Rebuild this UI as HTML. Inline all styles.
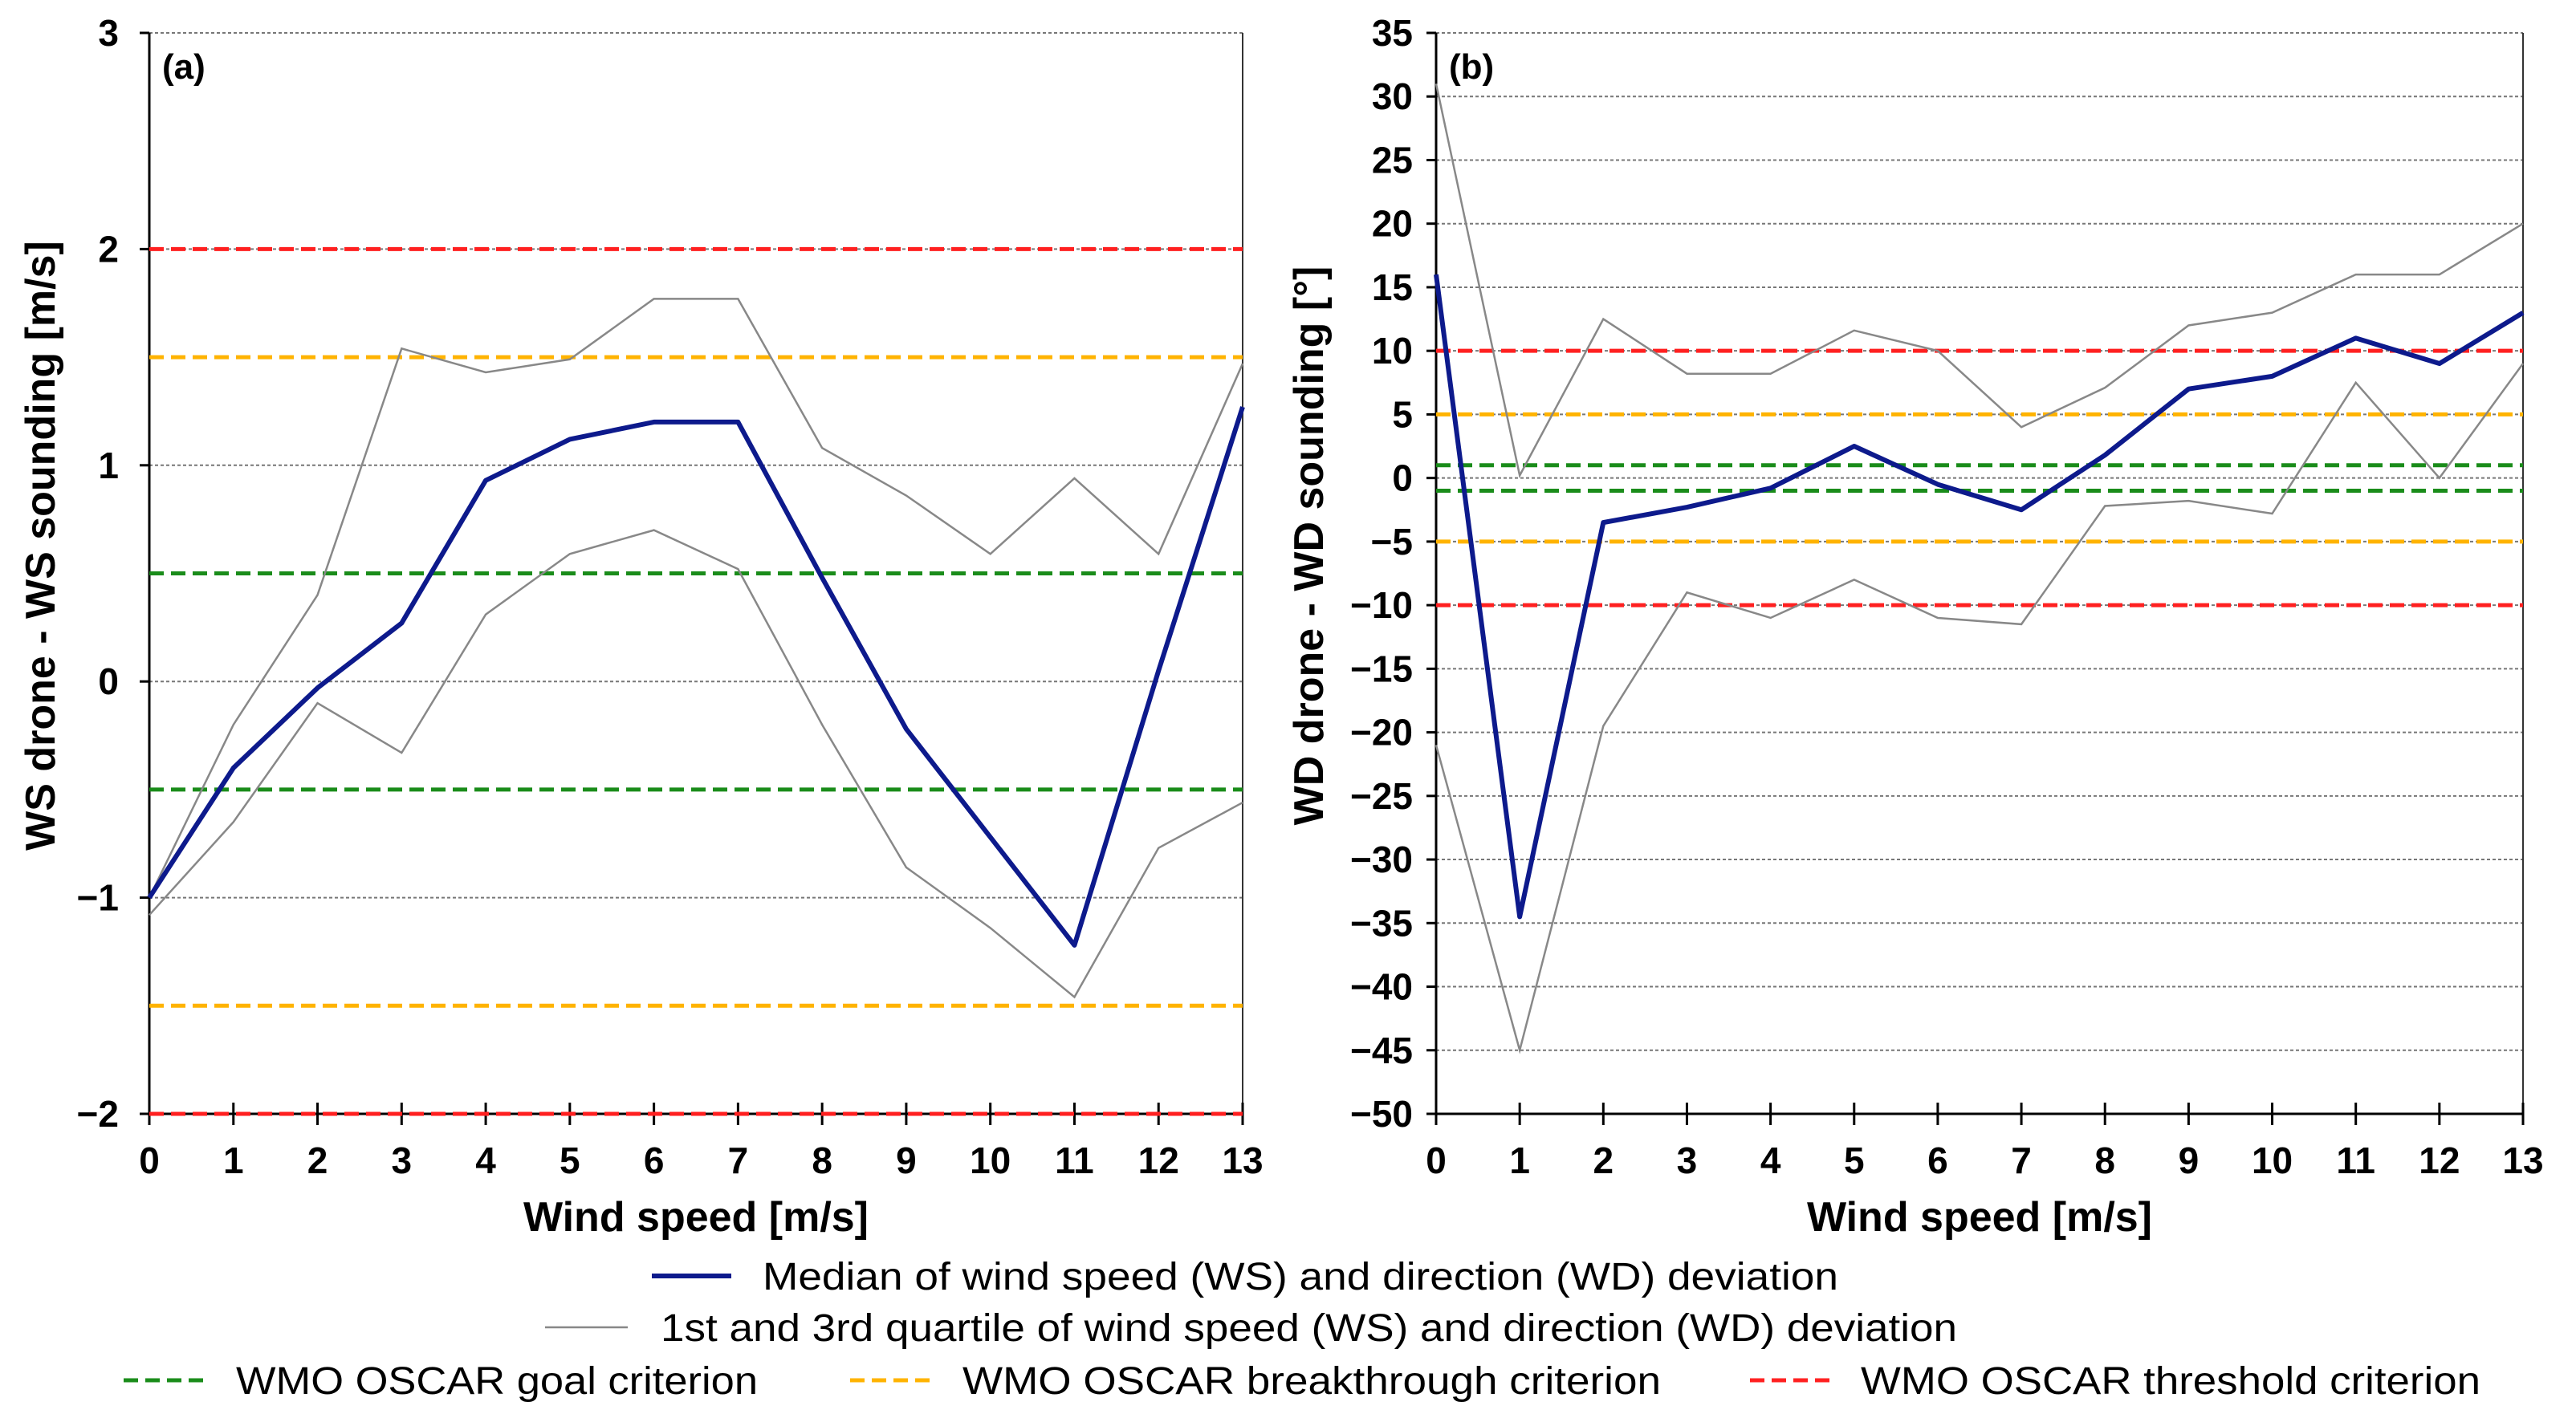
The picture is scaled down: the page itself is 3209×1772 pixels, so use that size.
<!DOCTYPE html>
<html><head><meta charset="utf-8"><style>
html,body{margin:0;padding:0;background:#fff;}
svg{display:block;font-family:"Liberation Sans",Arial,sans-serif;}
</style></head><body>
<svg id="chart" width="3209" height="1772" viewBox="0 0 3209 1772" xmlns="http://www.w3.org/2000/svg">
<g id="pa"></g>
<g id="pb"></g>
<g id="legend"></g>
</svg>
<script>
const windSpeeds = [0,1,2,3,4,5,6,7,8,9,10,11,12,13];
const wsMedian = [-1,-0.4,-0.03,0.27,0.93,1.12,1.2,1.2,0.48,-0.22,-0.72,-1.22,0.05,1.27];
const wsQ3 = [-1.0,-0.2,0.4,1.54,1.43,1.49,1.77,1.77,1.08,0.86,0.59,0.94,0.59,1.47];
const wsQ1 = [-1.08,-0.65,-0.1,-0.33,0.31,0.59,0.7,0.52,-0.2,-0.86,-1.14,-1.46,-0.77,-0.56];
const wsTicks = [-2,-1,0,1,2,3];
const wsGoal = 0.5, wsBreak = 1.5, wsThresh = 2;
const wdMedian = [16,-34.5,-3.5,-2.3,-0.8,2.5,-0.5,-2.5,1.8,7,8,11,9,13];
const wdQ3 = [31,0.2,12.5,8.2,8.2,11.6,10,4,7.1,12,13,16,16,20];
const wdQ1 = [-21,-45,-19.5,-9,-11,-8,-11,-11.5,-2.2,-1.8,-2.8,7.5,0,9];
const wdTicks = [-50,-45,-40,-35,-30,-25,-20,-15,-10,-5,0,5,10,15,20,25,30,35];
const wdGoal = 1, wdBreak = 5, wdThresh = 10;

const NS = "http://www.w3.org/2000/svg";
function mk(parent, tag, attrs, text){
  const e = document.createElementNS(NS, tag);
  for (const k in attrs) e.setAttribute(k, attrs[k]);
  if (text !== undefined) e.textContent = text;
  parent.appendChild(e);
  return e;
}
const GREEN="#1a8c1a", ORANGE="#ffb300", RED="#ff2020", BLUE="#0d1a8c";

function panel(g, cfg){
  const x0=cfg.x0, x1=cfg.x1, yTop=41, yBot=1388;
  const ymin=cfg.ticks[0], ymax=cfg.ticks[cfg.ticks.length-1];
  const X = v => x0 + (v - windSpeeds[0])/(windSpeeds[windSpeeds.length-1]-windSpeeds[0])*(x1-x0);
  const Y = v => yBot - (v - ymin)/(ymax-ymin)*(yBot-yTop);
  cfg.ticks.forEach(t=>{
    const l = mk(g,'line',{x1:x0,x2:x1,y1:Y(t),y2:Y(t),stroke:'#777','stroke-width':2,'stroke-dasharray':'4,3'});
    
    
    const tk = mk(g,'line',{x1:x0-12,x2:x0,y1:Y(t),y2:Y(t),stroke:'#000','stroke-width':3});
    
    
    const lab = mk(g,'text',{x:cfg.labX,y:Y(t)+16,'text-anchor':'end','font-size':46,'font-weight':'bold'}, t<0?('\u2212'+(-t)):String(t));
    
    
  });
  const ax = mk(g,'line',{x1:x0,x2:x0,y1:yTop,y2:yBot,stroke:'#000','stroke-width':3});
  
  
  const rx = mk(g,'line',{x1:x1,x2:x1,y1:yTop,y2:yBot,stroke:'#333','stroke-width':2});
  
  
  const bx = mk(g,'line',{x1:x0,x2:x1,y1:yBot,y2:yBot,stroke:'#000','stroke-width':3});
  
  
  windSpeeds.forEach(w=>{
    const tk = mk(g,'line',{x1:X(w),x2:X(w),y1:yBot-14,y2:yBot+14,stroke:'#000','stroke-width':3});
    
    
    const lab = mk(g,'text',{x:X(w),y:1462,'text-anchor':'middle','font-size':46,'font-weight':'bold'}, String(w));
    
    
  });
  [[cfg.goal,GREEN,'goal'],[cfg.brk,ORANGE,'breakthrough'],[cfg.thr,RED,'threshold']].forEach(c=>{
    [c[0],-c[0]].forEach(v=>{
      const l = mk(g,'line',{x1:x0,x2:x1,y1:Y(v),y2:Y(v),stroke:c[1],'stroke-width':5,'stroke-dasharray':'18,9'});
      
      
    });
  });
  const pts = arr => arr.map((v,i)=>X(windSpeeds[i])+','+Y(v)).join(' ');
  const q3 = mk(g,'polyline',{points:pts(cfg.q3),fill:'none',stroke:'#888','stroke-width':2.5});
  
  
  const q1 = mk(g,'polyline',{points:pts(cfg.q1),fill:'none',stroke:'#888','stroke-width':2.5});
  
  
  const md = mk(g,'polyline',{points:pts(cfg.med),fill:'none',stroke:BLUE,'stroke-width':6,'stroke-linejoin':'round'});
  
  
  const pl = mk(g,'text',{x:x0+16,y:98,'font-size':44,'font-weight':'bold'}, cfg.tag);
  
  
  const xt = mk(g,'text',{x:(x0+x1)/2,y:1534,'text-anchor':'middle','font-size':52,'font-weight':'bold'}, 'Wind speed [m/s]');
  
  
  const yt = mk(g,'text',{x:0,y:0,'text-anchor':'middle','font-size':52,'font-weight':'bold',transform:'translate('+cfg.ytX+',680) rotate(-90)'}, cfg.ytitle);
  
  
}
panel(document.getElementById('pa'),{x0:186,x1:1548,ticks:wsTicks,labX:148,goal:wsGoal,brk:wsBreak,thr:wsThresh,med:wsMedian,q1:wsQ1,q3:wsQ3,tag:'(a)',ytitle:'WS drone - WS sounding [m/s]',ytX:68});
panel(document.getElementById('pb'),{x0:1789,x1:3143,ticks:wdTicks,labX:1760,goal:wdGoal,brk:wdBreak,thr:wdThresh,med:wdMedian,q1:wdQ1,q3:wdQ3,tag:'(b)',ytitle:'WD drone - WD sounding [\u00b0]',ytX:1648});

const lg = document.getElementById('legend');
const entries = [
  {x1:812,x2:911,y:1590,c:BLUE,w:6,d:null,tx:950,t:'Median of wind speed (WS) and direction (WD) deviation',tl:1340,n:'legend-entry-median'},
  {x1:679,x2:782,y:1654,c:'#888',w:2.5,d:null,tx:823,t:'1st and 3rd quartile of wind speed (WS) and direction (WD) deviation',tl:1615,n:'legend-entry-quartiles'},
  {x1:154,x2:253,y:1720,c:GREEN,w:5,d:'18,9',tx:294,t:'WMO OSCAR goal criterion',tl:650,n:'legend-entry-goal'},
  {x1:1059,x2:1158,y:1720,c:ORANGE,w:5,d:'18,9',tx:1199,t:'WMO OSCAR breakthrough criterion',tl:870,n:'legend-entry-breakthrough'},
  {x1:2180,x2:2279,y:1720,c:RED,w:5,d:'18,9',tx:2318,t:'WMO OSCAR threshold criterion',tl:772,n:'legend-entry-threshold'}
];
entries.forEach(e=>{
  const a = {x1:e.x1,x2:e.x2,y1:e.y,y2:e.y,stroke:e.c,'stroke-width':e.w};
  if (e.d) a['stroke-dasharray']=e.d;
  const l = mk(lg,'line',a);
  
  
  const t = mk(lg,'text',{x:e.tx,y:e.y+17,'font-size':48,textLength:e.tl,lengthAdjust:'spacingAndGlyphs'}, e.t);
  
  
});
</script>
</body></html>
